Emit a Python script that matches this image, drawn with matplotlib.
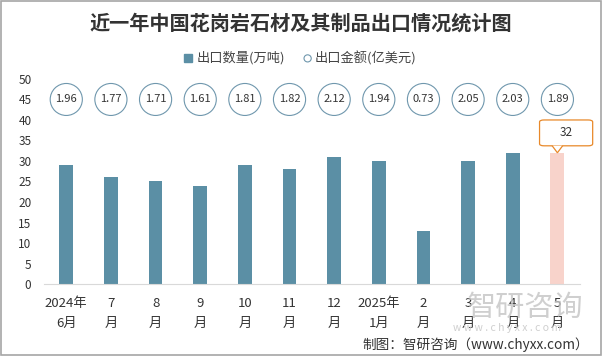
import matplotlib
matplotlib.use("Agg")
import matplotlib.pyplot as plt
from matplotlib.patches import Ellipse, FancyBboxPatch, Polygon, Rectangle

plt.rcParams["font.family"] = ["Noto Sans CJK SC", "DejaVu Sans"]

# data
months = ["2024年\n6月", "7\n月", "8\n月", "9\n月", "10\n月", "11\n月",
          "12\n月", "2025年\n1月", "2\n月", "3\n月", "4\n月", "5\n月"]
volume = [29, 26, 25, 24, 29, 28, 31, 30, 13, 30, 32, 32]   # 万吨
amount = [1.96, 1.77, 1.71, 1.61, 1.81, 1.82, 2.12, 1.94, 0.73, 2.05, 2.03, 1.89]  # 亿美元
yticks = list(range(0, 55, 5))

BAR = "#5b8fa5"
LAST = "#f8d3cb"
RING = "#6f97ad"

fig = plt.figure(figsize=(6.02, 3.56), dpi=100)
ax = fig.add_axes([0.073, 0.2022, 0.890, 0.576])

x = list(range(len(months)))
colors = [BAR] * (len(months) - 1) + [LAST]
ax.bar(x, volume, width=0.31, color=colors, zorder=2)

# amounts shown as labelled circles on the 45 line
for xi, v in zip(x, amount):
    ax.add_patch(Ellipse((xi, 45), 0.72, 7.8, facecolor="white",
                         edgecolor=RING, lw=0.8, zorder=3))
    ax.text(xi, 45, f"{v:.2f}", ha="center", va="center", fontsize=8,
            color="#333333", zorder=4)

# callout on last bar
xl, yl = x[-1], volume[-1]
ax.add_patch(FancyBboxPatch((xl - 0.40, yl + 1.7), 1.19, 6.3,
                            boxstyle="round,pad=0,rounding_size=0.1",
                            facecolor="white", edgecolor="#e8892a", lw=0.9,
                            zorder=5, clip_on=False, mutation_aspect=5))
ax.add_patch(Polygon([(xl - 0.12, yl + 1.75), (xl, yl), (xl + 0.12, yl + 1.75)],
                     closed=False, facecolor="white", edgecolor="#e8892a",
                     lw=0.9, zorder=6, clip_on=False))
ax.text(xl + 0.19, yl + 4.9, str(yl), ha="center", va="center", fontsize=8.5,
        color="#333333", zorder=7)

ax.set_xlim(-0.5, len(months) - 0.5)
ax.set_ylim(0, 50)
ax.set_yticks(yticks)
ax.set_xticks(x)
ax.set_xticklabels(months, fontsize=9.5, color="#333333", linespacing=1.75)
ax.tick_params(axis="y", length=0, labelsize=8.5, labelcolor="#333333", pad=9)
ax.tick_params(axis="x", length=0, pad=9)
for s in ["top", "right", "left"]:
    ax.spines[s].set_visible(False)
ax.spines["bottom"].set_color("#d9d9d9")

fig.text(0.5, 0.935, "近一年中国花岗岩石材及其制品出口情况统计图", ha="center",
         va="center", fontsize=14.5, fontweight="bold", color="#333333")

# legend
fig.patches.append(Rectangle((0.306, 0.826), 0.013, 0.022, color=BAR,
                             transform=fig.transFigure, figure=fig))
fig.text(0.327, 0.837, "出口数量(万吨)", fontsize=9.5, va="center", color="#444444")
fig.patches.append(Ellipse((0.511, 0.836), 0.012, 0.02, facecolor="white",
                           edgecolor=RING, lw=0.8,
                           transform=fig.transFigure, figure=fig))
fig.text(0.523, 0.837, "出口金额(亿美元)", fontsize=9.5, va="center", color="#444444")

# watermark
fig.text(0.872, 0.135, "智研咨询", fontsize=21, color="#c4c4c4", ha="center",
         va="center", alpha=0.8)
fig.text(0.843, 0.078, "w w w . c h y x x . c o m", fontsize=7.5,
         color="#cfcfcf", ha="center", va="center")
fig.text(0.979, 0.031, "制图：智研咨询（www.chyxx.com）", fontsize=9.8,
         ha="right", va="center", color="#333333")

# figure frame
fig.patches.append(Rectangle((0.001, 0.002), 0.997, 0.995, fill=False,
                             edgecolor="#a6a6a6", lw=1.2,
                             transform=fig.transFigure, figure=fig))

fig.savefig("out.png", dpi=100)
